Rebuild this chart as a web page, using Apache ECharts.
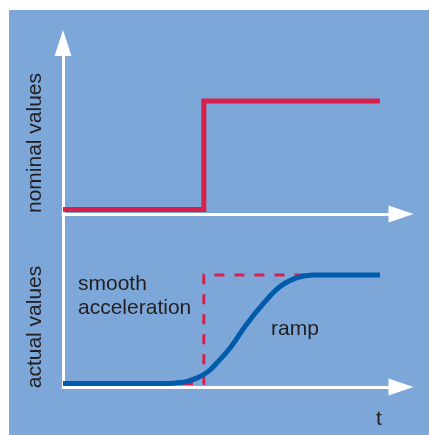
<!DOCTYPE html>
<html>
<head>
<meta charset="utf-8">
<script src="https://cdn.jsdelivr.net/npm/echarts@6/dist/echarts.min.js"></script>
<style>
html,body{margin:0;padding:0;background:#fff;}
#chart{width:429px;height:435px;}
</style>
</head>
<body>
<div id="chart"></div>
<script>
// nominal (commanded) value: a step
const tNominal = [0, 4, 4, 9];
const vNominal = [0, 0, 1, 1];
// actual value: smooth acceleration ramp
const tActual = [0, 2.9, 3.2, 3.5, 3.8, 4.1, 4.4, 4.75, 5.2, 5.7, 6.15, 6.65, 7.1, 7.6, 9];
const vActual = [0, 0, 0.005, 0.018, 0.05, 0.105, 0.2, 0.33, 0.54, 0.74, 0.89, 0.975, 1, 1, 1];
// texts
const yLabels = ['nominal values', 'actual values'];
const annotations = ['smooth', 'acceleration', 'ramp'];
const xLabel = 't';

const pairs = (a, b) => a.map((v, i) => [v, b[i]]);

const RED = '#d9204c';
const BLUE = '#005bab';
const PANEL = '#7ca7d8';
const TXT = '#231f20';
const FONT = '21px "Liberation Sans", Arial, sans-serif';

const axisLineBase = { show: true, onZero: false, lineStyle: { color: '#ffffff', width: 3 } };
const hidden = { axisTick: { show: false }, axisLabel: { show: false }, splitLine: { show: false } };

const chart = echarts.init(document.getElementById('chart'), null, { renderer: 'canvas' });
chart.setOption({
  animation: false,
  grid: [
    { left: 63, top: 43, right: 28, bottom: 221 },
    { left: 63, top: 214, right: 28, bottom: 48 }
  ],
  xAxis: [
    Object.assign({ type: 'value', gridIndex: 0, min: 0, max: 9.6,
      axisLine: Object.assign({}, axisLineBase, { symbol: ['none', 'triangle'], symbolSize: [17, 25] }) }, hidden),
    Object.assign({ type: 'value', gridIndex: 1, min: 0, max: 9.6,
      axisLine: Object.assign({}, axisLineBase, { symbol: ['none', 'triangle'], symbolSize: [17, 25] }) }, hidden)
  ],
  yAxis: [
    Object.assign({ type: 'value', gridIndex: 0, min: -0.0415, max: 1.535,
      axisLine: Object.assign({}, axisLineBase, { symbol: ['none', 'triangle'], symbolSize: [17, 26] }) }, hidden),
    Object.assign({ type: 'value', gridIndex: 1, min: -0.032, max: 1.562,
      axisLine: Object.assign({}, axisLineBase) }, hidden)
  ],
  graphic: [
    { type: 'rect', z: -100, silent: true, shape: { x: 9, y: 10, width: 420, height: 425 }, style: { fill: PANEL } },
    { type: 'text', x: 35, y: 143, rotation: Math.PI / 2, style: { text: yLabels[0], font: FONT, fill: TXT, align: 'center', verticalAlign: 'middle' } },
    { type: 'text', x: 35, y: 327, rotation: Math.PI / 2, style: { text: yLabels[1], font: FONT, fill: TXT, align: 'center', verticalAlign: 'middle' } },
    { type: 'text', x: 78, y: 284, style: { text: annotations[0], font: FONT, fill: TXT, align: 'left', verticalAlign: 'middle' } },
    { type: 'text', x: 78, y: 308, style: { text: annotations[1], font: FONT, fill: TXT, align: 'left', verticalAlign: 'middle' } },
    { type: 'text', x: 271, y: 329, style: { text: annotations[2], font: FONT, fill: TXT, align: 'left', verticalAlign: 'middle' } },
    { type: 'text', x: 379, y: 419, style: { text: xLabel, font: FONT, fill: TXT, align: 'center', verticalAlign: 'middle' } }
  ],
  series: [
    { type: 'line', xAxisIndex: 0, yAxisIndex: 0, data: pairs(tNominal, vNominal), showSymbol: false,
      lineStyle: { color: RED, width: 5, join: 'miter', cap: 'butt' }, z: 3 },
    { type: 'line', xAxisIndex: 1, yAxisIndex: 1, data: pairs(tNominal, vNominal), showSymbol: false,
      lineStyle: { color: RED, width: 3, type: [10, 10], join: 'miter', cap: 'butt' }, z: 2 },
    { type: 'line', xAxisIndex: 1, yAxisIndex: 1, data: pairs(tActual, vActual), showSymbol: false, smooth: 0.4,
      lineStyle: { color: BLUE, width: 5, cap: 'butt' }, z: 3 }
  ]
});
</script>
</body>
</html>
